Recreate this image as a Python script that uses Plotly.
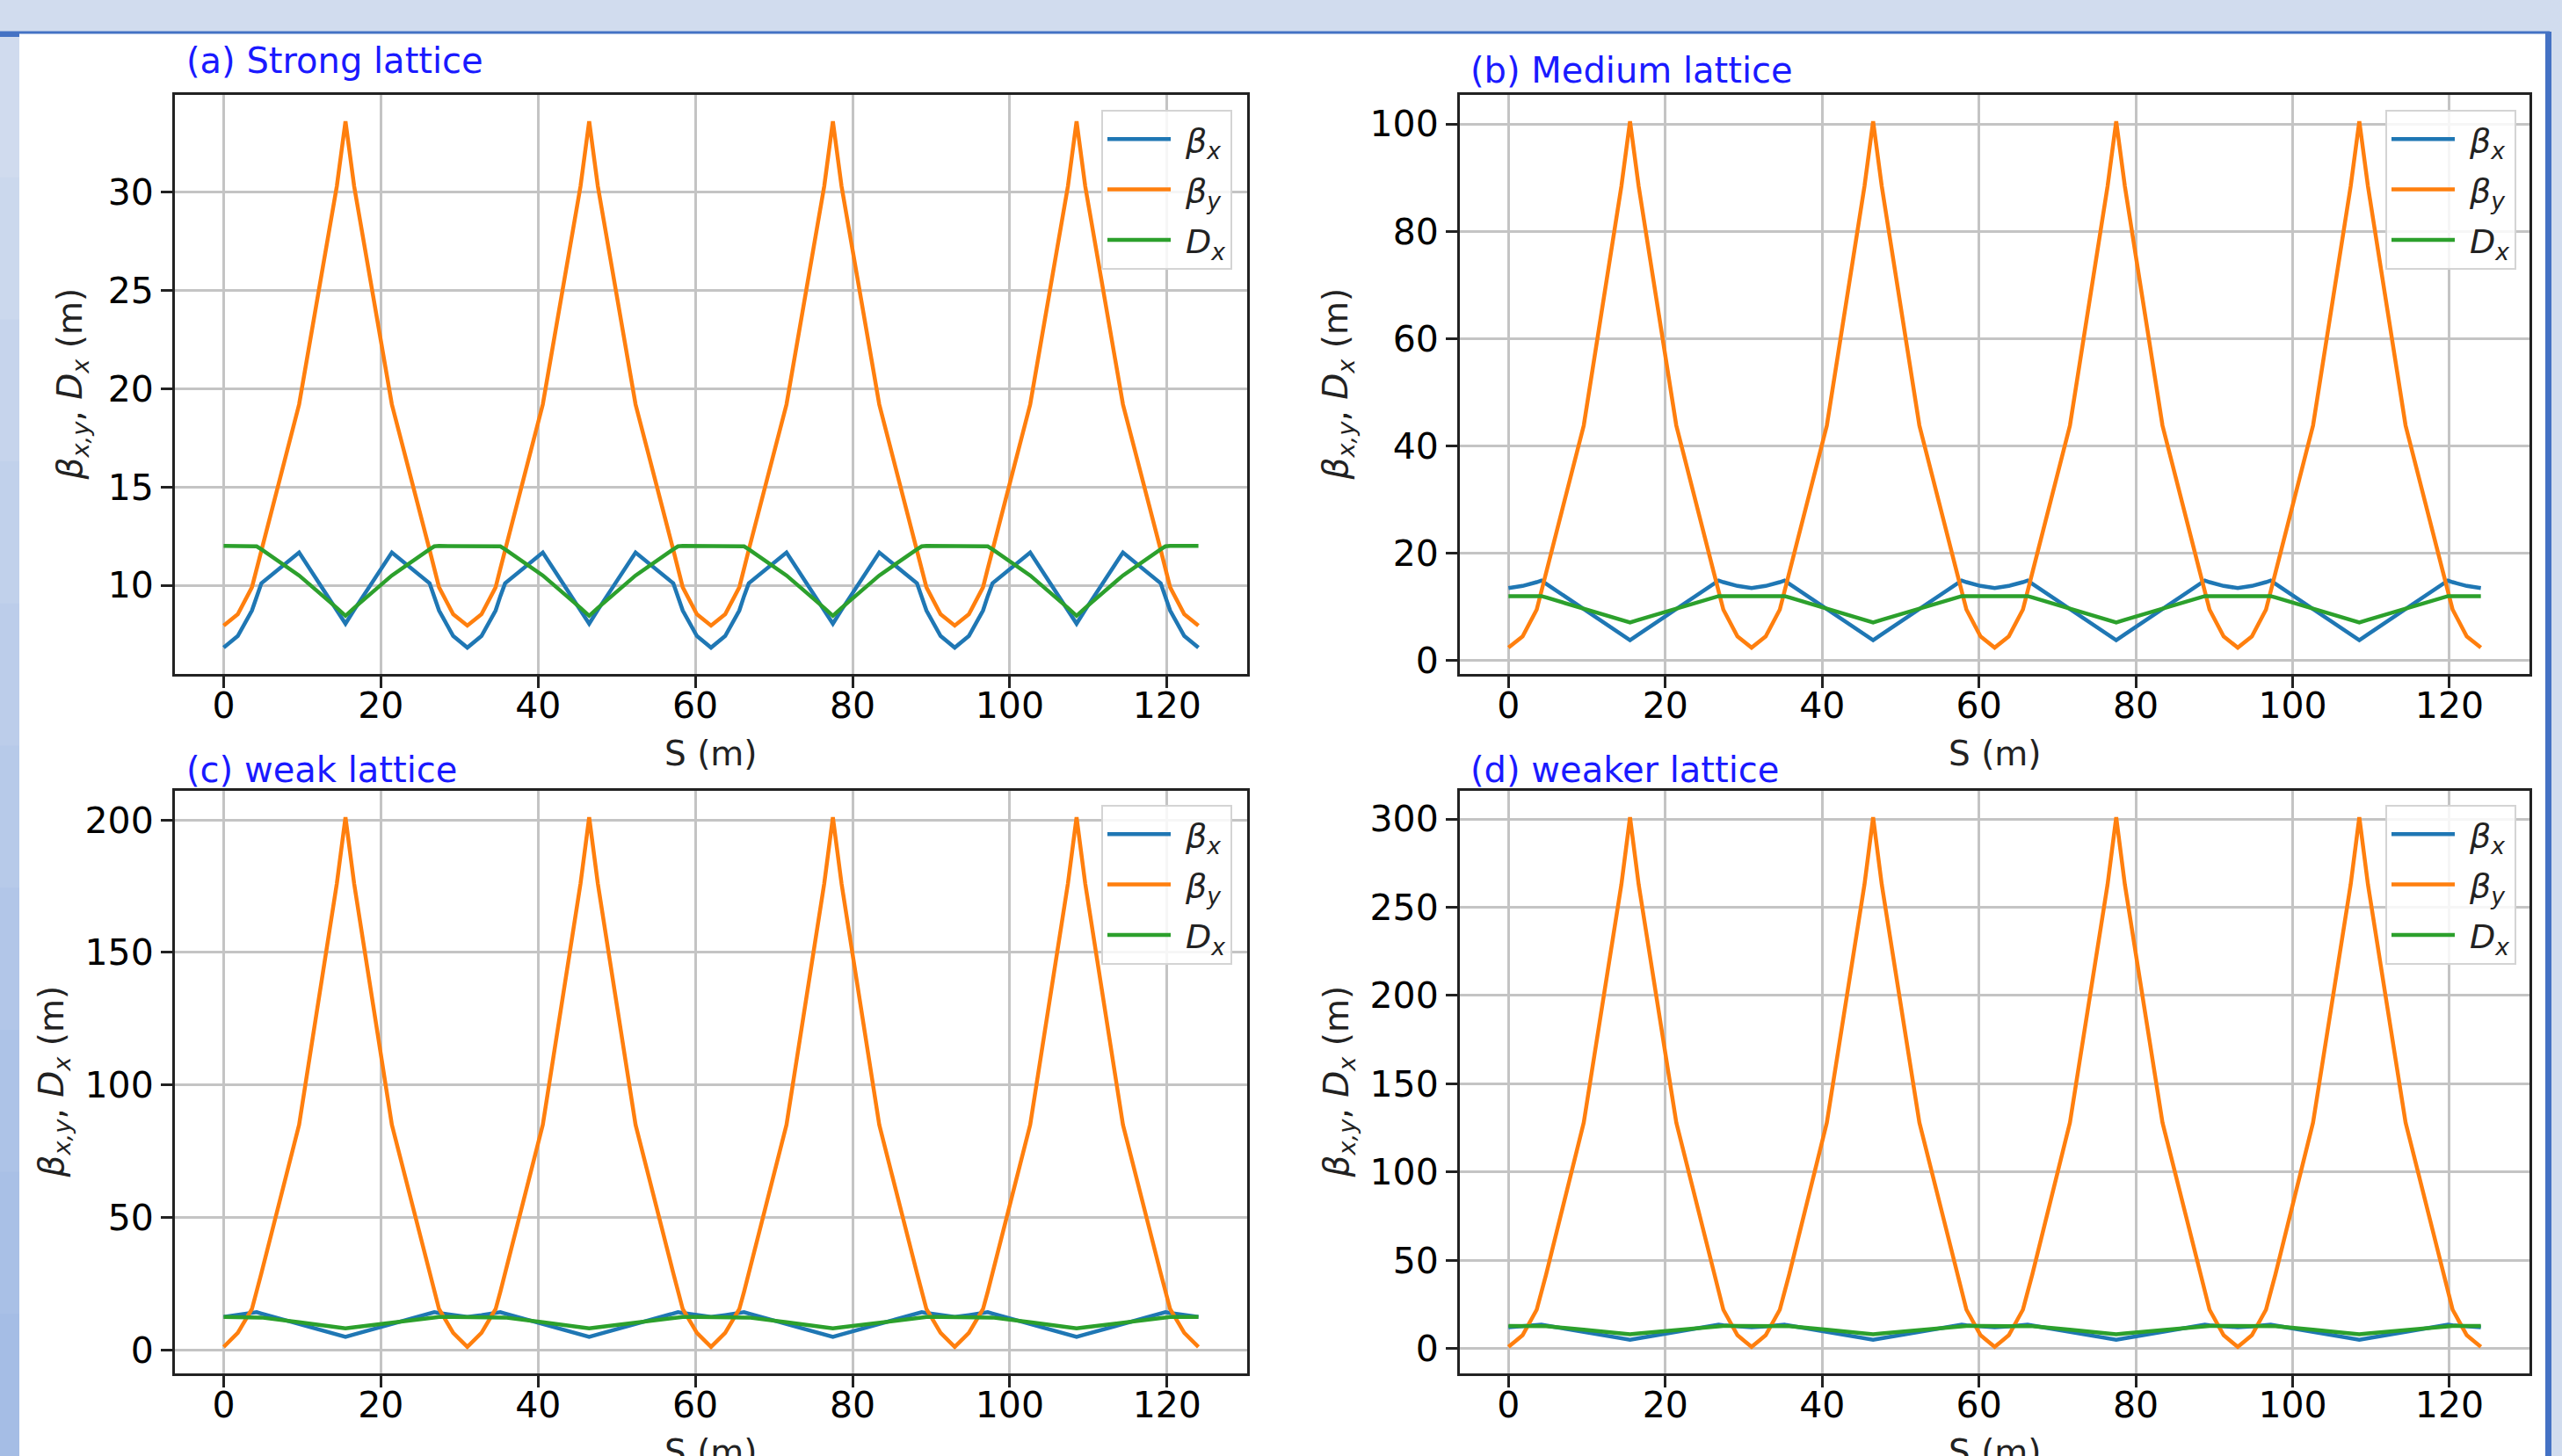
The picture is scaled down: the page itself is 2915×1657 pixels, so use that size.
import plotly.graph_objects as go

W, H = 2915, 1657

# ---------------- data ----------------
s = [0, 1.8, 3.6, 4.2, 4.8, 9.6, 14.4, 15.5, 16.6, 21.4, 26.2, 26.8, 27.4, 29.2,
     31, 32.8, 34.6, 35.2, 35.8, 40.6, 45.4, 46.5, 47.6, 52.4, 57.2, 57.8, 58.4, 60.2,
     62, 63.8, 65.6, 66.2, 66.8, 71.6, 76.4, 77.5, 78.6, 83.4, 88.2, 88.8, 89.4, 91.2,
     93, 94.8, 96.6, 97.2, 97.8, 102.6, 107.4, 108.5, 109.6, 114.4, 119.2, 119.8, 120.4, 122.2,
     124]

# (a) Strong lattice
bx_a = [6.83, 7.42, 8.72, 9.45, 10.1, 11.67, 8.75, 8.05, 8.75, 11.67, 10.1, 9.45, 8.72, 7.42,
        6.83, 7.42, 8.72, 9.45, 10.1, 11.67, 8.75, 8.05, 8.75, 11.67, 10.1, 9.45, 8.72, 7.42,
        6.83, 7.42, 8.72, 9.45, 10.1, 11.67, 8.75, 8.05, 8.75, 11.67, 10.1, 9.45, 8.72, 7.42,
        6.83, 7.42, 8.72, 9.45, 10.1, 11.67, 8.75, 8.05, 8.75, 11.67, 10.1, 9.45, 8.72, 7.42,
        6.83]
by_a = [7.95, 8.53, 9.9, 10.85, 11.8, 19.2, 30.3, 33.6, 30.3, 19.2, 11.8, 10.85, 9.9, 8.53,
        7.95, 8.53, 9.9, 10.85, 11.8, 19.2, 30.3, 33.6, 30.3, 19.2, 11.8, 10.85, 9.9, 8.53,
        7.95, 8.53, 9.9, 10.85, 11.8, 19.2, 30.3, 33.6, 30.3, 19.2, 11.8, 10.85, 9.9, 8.53,
        7.95, 8.53, 9.9, 10.85, 11.8, 19.2, 30.3, 33.6, 30.3, 19.2, 11.8, 10.85, 9.9, 8.53,
        7.95]
dx_a = [12.0, 12.0, 12.0, 11.98, 11.83, 10.5, 8.85, 8.45, 8.85, 10.5, 11.83, 11.98, 12.0, 12.0,
        12.0, 12.0, 12.0, 11.98, 11.83, 10.5, 8.85, 8.45, 8.85, 10.5, 11.83, 11.98, 12.0, 12.0,
        12.0, 12.0, 12.0, 11.98, 11.83, 10.5, 8.85, 8.45, 8.85, 10.5, 11.83, 11.98, 12.0, 12.0,
        12.0, 12.0, 12.0, 11.98, 11.83, 10.5, 8.85, 8.45, 8.85, 10.5, 11.83, 11.98, 12.0, 12.0,
        12.0]

# (b) Medium lattice
bx_b = [13.5, 13.9, 14.6, 14.9, 14.3, 9.6, 4.9, 3.8, 4.9, 9.6, 14.3, 14.9, 14.6, 13.9,
        13.5, 13.9, 14.6, 14.9, 14.3, 9.6, 4.9, 3.8, 4.9, 9.6, 14.3, 14.9, 14.6, 13.9,
        13.5, 13.9, 14.6, 14.9, 14.3, 9.6, 4.9, 3.8, 4.9, 9.6, 14.3, 14.9, 14.6, 13.9,
        13.5, 13.9, 14.6, 14.9, 14.3, 9.6, 4.9, 3.8, 4.9, 9.6, 14.3, 14.9, 14.6, 13.9,
        13.5]
by_b = [2.4, 4.5, 9.5, 12.9, 16.3, 43.8, 88.4, 100.5, 88.4, 43.8, 16.3, 12.9, 9.5, 4.5,
        2.4, 4.5, 9.5, 12.9, 16.3, 43.8, 88.4, 100.5, 88.4, 43.8, 16.3, 12.9, 9.5, 4.5,
        2.4, 4.5, 9.5, 12.9, 16.3, 43.8, 88.4, 100.5, 88.4, 43.8, 16.3, 12.9, 9.5, 4.5,
        2.4, 4.5, 9.5, 12.9, 16.3, 43.8, 88.4, 100.5, 88.4, 43.8, 16.3, 12.9, 9.5, 4.5,
        2.4]
dx_b = [12.0, 12.0, 12.0, 12.0, 11.75, 9.7, 7.6, 7.1, 7.6, 9.7, 11.75, 12.0, 12.0, 12.0,
        12.0, 12.0, 12.0, 12.0, 11.75, 9.7, 7.6, 7.1, 7.6, 9.7, 11.75, 12.0, 12.0, 12.0,
        12.0, 12.0, 12.0, 12.0, 11.75, 9.7, 7.6, 7.1, 7.6, 9.7, 11.75, 12.0, 12.0, 12.0,
        12.0, 12.0, 12.0, 12.0, 11.75, 9.7, 7.6, 7.1, 7.6, 9.7, 11.75, 12.0, 12.0, 12.0,
        12.0]

# (c) weak lattice
bx_c = [12.5, 13.2, 14.0, 14.3, 13.8, 9.9, 5.9, 5.0, 5.9, 9.9, 13.8, 14.3, 14.0, 13.2,
        12.5, 13.2, 14.0, 14.3, 13.8, 9.9, 5.9, 5.0, 5.9, 9.9, 13.8, 14.3, 14.0, 13.2,
        12.5, 13.2, 14.0, 14.3, 13.8, 9.9, 5.9, 5.0, 5.9, 9.9, 13.8, 14.3, 14.0, 13.2,
        12.5, 13.2, 14.0, 14.3, 13.8, 9.9, 5.9, 5.0, 5.9, 9.9, 13.8, 14.3, 14.0, 13.2,
        12.5]
by_c = [1.2, 6.5, 15.5, 22.0, 29.0, 85.0, 176.0, 201.0, 176.0, 85.0, 29.0, 22.0, 15.5, 6.5,
        1.2, 6.5, 15.5, 22.0, 29.0, 85.0, 176.0, 201.0, 176.0, 85.0, 29.0, 22.0, 15.5, 6.5,
        1.2, 6.5, 15.5, 22.0, 29.0, 85.0, 176.0, 201.0, 176.0, 85.0, 29.0, 22.0, 15.5, 6.5,
        1.2, 6.5, 15.5, 22.0, 29.0, 85.0, 176.0, 201.0, 176.0, 85.0, 29.0, 22.0, 15.5, 6.5,
        1.2]
dx_c = [12.5, 12.5, 12.5, 12.5, 12.3, 10.5, 8.6, 8.2, 8.6, 10.5, 12.3, 12.5, 12.5, 12.5,
        12.5, 12.5, 12.5, 12.5, 12.3, 10.5, 8.6, 8.2, 8.6, 10.5, 12.3, 12.5, 12.5, 12.5,
        12.5, 12.5, 12.5, 12.5, 12.3, 10.5, 8.6, 8.2, 8.6, 10.5, 12.3, 12.5, 12.5, 12.5,
        12.5, 12.5, 12.5, 12.5, 12.3, 10.5, 8.6, 8.2, 8.6, 10.5, 12.3, 12.5, 12.5, 12.5,
        12.5]

# (d) weaker lattice
bx_d = [12.0, 12.5, 13.2, 13.5, 13.0, 9.4, 5.8, 5.0, 5.8, 9.4, 13.0, 13.5, 13.2, 12.5,
        12.0, 12.5, 13.2, 13.5, 13.0, 9.4, 5.8, 5.0, 5.8, 9.4, 13.0, 13.5, 13.2, 12.5,
        12.0, 12.5, 13.2, 13.5, 13.0, 9.4, 5.8, 5.0, 5.8, 9.4, 13.0, 13.5, 13.2, 12.5,
        12.0, 12.5, 13.2, 13.5, 13.0, 9.4, 5.8, 5.0, 5.8, 9.4, 13.0, 13.5, 13.2, 12.5,
        12.0]
by_d = [0.9, 7.5, 22.0, 32.0, 42.0, 128.0, 263.0, 301.0, 263.0, 128.0, 42.0, 32.0, 22.0, 7.5,
        0.9, 7.5, 22.0, 32.0, 42.0, 128.0, 263.0, 301.0, 263.0, 128.0, 42.0, 32.0, 22.0, 7.5,
        0.9, 7.5, 22.0, 32.0, 42.0, 128.0, 263.0, 301.0, 263.0, 128.0, 42.0, 32.0, 22.0, 7.5,
        0.9, 7.5, 22.0, 32.0, 42.0, 128.0, 263.0, 301.0, 263.0, 128.0, 42.0, 32.0, 22.0, 7.5,
        0.9]
dx_d = [12.8, 12.8, 12.8, 12.8, 12.6, 10.7, 8.6, 8.0, 8.6, 10.7, 12.6, 12.8, 12.8, 12.8,
        12.8, 12.8, 12.8, 12.8, 12.6, 10.7, 8.6, 8.0, 8.6, 10.7, 12.6, 12.8, 12.8, 12.8,
        12.8, 12.8, 12.8, 12.8, 12.6, 10.7, 8.6, 8.0, 8.6, 10.7, 12.6, 12.8, 12.8, 12.8,
        12.8, 12.8, 12.8, 12.8, 12.6, 10.7, 8.6, 8.0, 8.6, 10.7, 12.6, 12.8, 12.8, 12.8,
        12.8]

panel_titles = ["(a) Strong lattice", "(b) Medium lattice", "(c) weak lattice", "(d) weaker lattice"]
series_names = ["&nbsp;<i>β<sub>x</sub></i>", "&nbsp;<i>β<sub>y</sub></i>", "&nbsp;<i>D<sub>x</sub></i>"]
y_dticks = [5, 20, 50, 50]
x_ticks = [0, 20, 40, 60, 80, 100, 120]

# ---------------- styling / layout ----------------
colors = ["#1f77b4", "#ff7f0e", "#2ca02c"]
FONT = "DejaVu Sans"

def px_x(p):
    return p / W

def px_y(p):
    return 1 - p / H

panels = [
    dict(data=(bx_a, by_a, dx_a), xd=(199, 1419), yd=(108, 767), title_xy=(210, 69),
         xlab_y=857, ylab_x=82, leg=(1402, 125)),
    dict(data=(bx_b, by_b, dx_b), xd=(1661, 2878), yd=(108, 767), title_xy=(1671, 80),
         xlab_y=857, ylab_x=1522, leg=(2863, 125)),
    dict(data=(bx_c, by_c, dx_c), xd=(199, 1419), yd=(900, 1563), title_xy=(210, 876),
         xlab_y=1652, ylab_x=60, leg=(1402, 916)),
    dict(data=(bx_d, by_d, dx_d), xd=(1661, 2878), yd=(900, 1563), title_xy=(1671, 876),
         xlab_y=1652, ylab_x=1522, leg=(2863, 916)),
]

fig = go.Figure()
annotations = []
layout = dict(
    width=W, height=H,
    margin=dict(l=0, r=0, t=0, b=0),
    paper_bgcolor="#d1dcee",
    plot_bgcolor="rgba(0,0,0,0)",
    font=dict(family=FONT, size=40, color="black"),
    showlegend=True,
)

group_ids = ["bx", "by", "dx"]
for i, p in enumerate(panels):
    k = "" if i == 0 else str(i + 1)
    xa, ya = "x" + k, "y" + k
    legname = "legend" + k
    for j, (vals, nm) in enumerate(zip(p["data"], series_names)):
        fig.add_trace(go.Scatter(
            x=s, y=vals, mode="lines", name=nm,
            line=dict(color=colors[j], width=4.5),
            xaxis=xa, yaxis=ya, legend=legname, showlegend=True,
            legendgroup=group_ids[j] + k,
        ))
    allv = [v for arr in p["data"] for v in arr]
    lo, hi = min(allv), max(allv)
    pad = 0.05 * (hi - lo)
    xpad = 0.05 * (max(s) - min(s))
    axcommon = dict(
        showline=True, linecolor="#222222", linewidth=3, mirror=True,
        ticks="outside", ticklen=13, tickwidth=3, tickcolor="#222222",
        showgrid=True, gridcolor="#c4c4c4", gridwidth=3, zeroline=False,
        tickfont=dict(family=FONT, size=41, color="black"),
        automargin=False,
    )
    layout["xaxis" + k] = dict(
        axcommon, domain=[px_x(p["xd"][0]), px_x(p["xd"][1])], anchor=ya,
        range=[min(s) - xpad, max(s) + xpad], tickvals=x_ticks,
        ticklabelstandoff=-15,
    )
    layout["yaxis" + k] = dict(
        axcommon, domain=[px_y(p["yd"][1]), px_y(p["yd"][0])], anchor=xa,
        range=[lo - pad, hi + pad], dtick=y_dticks[i], tick0=0,
    )
    layout[legname] = dict(
        x=px_x(p["leg"][0]), y=px_y(p["leg"][1]), xanchor="right", yanchor="top",
        bgcolor="rgba(255,255,255,0.85)", bordercolor="#d4d4d4", borderwidth=2,
        font=dict(family=FONT, size=38, color="#222222"),
        itemwidth=72, tracegroupgap=5, traceorder="grouped",
    )
    # panel label
    annotations.append(dict(
        text=panel_titles[i], x=px_x(p["title_xy"][0]), y=px_y(p["title_xy"][1]),
        xref="paper", yref="paper", xanchor="left", yanchor="middle", showarrow=False,
        font=dict(family=FONT, size=40, color="#1a1aff"),
    ))
    # x axis title
    annotations.append(dict(
        text="S (m)", x=px_x((p["xd"][0] + p["xd"][1]) / 2), y=px_y(p["xlab_y"]),
        xref="paper", yref="paper", xanchor="center", yanchor="middle", showarrow=False,
        font=dict(family=FONT, size=39, color="#222222"),
    ))
    # y axis title
    annotations.append(dict(
        text="<i>β</i><sub><i>x,y</i></sub>, <i>D</i><sub><i>x</i></sub> (m)",
        x=px_x(p["ylab_x"]), y=px_y((p["yd"][0] + p["yd"][1]) / 2),
        xref="paper", yref="paper", xanchor="center", yanchor="middle", showarrow=False,
        textangle=-90, font=dict(family=FONT, size=39, color="#222222"),
    ))

# ---------------- slide frame ----------------
shapes = []
def rect(x0, y0, x1, y1, color, layer="below"):
    shapes.append(dict(type="rect", xref="paper", yref="paper",
                       x0=px_x(x0), x1=px_x(x1), y0=px_y(y1), y1=px_y(y0),
                       fillcolor=color, line=dict(width=0), layer=layer))

grad = ["#d0dbee", "#cbd8ed", "#c6d4ec", "#c1d1eb", "#bccdea", "#b7cae9",
        "#b2c6e8", "#adc3e7", "#a9c0e6", "#a5bde5"]
band_h = (H - 40) / len(grad)
for gi, gc in enumerate(grad):
    rect(0, 40 + gi * band_h, 22, 40 + (gi + 1) * band_h + 1, gc)
rect(22, 38, 2897, H, "white")
rect(0, 35.5, 2901, 38.5, "#4472c4")
rect(0, 36, 22, 42, "#4472c4")
rect(2896, 36, 2903, H, "#4472c4")

layout["shapes"] = shapes
layout["annotations"] = annotations
fig.update_layout(**layout)

fig.write_html("out.html", config={"displayModeBar": False},
               post_script="document.body.style.margin='0px';document.body.style.overflow='hidden';")
